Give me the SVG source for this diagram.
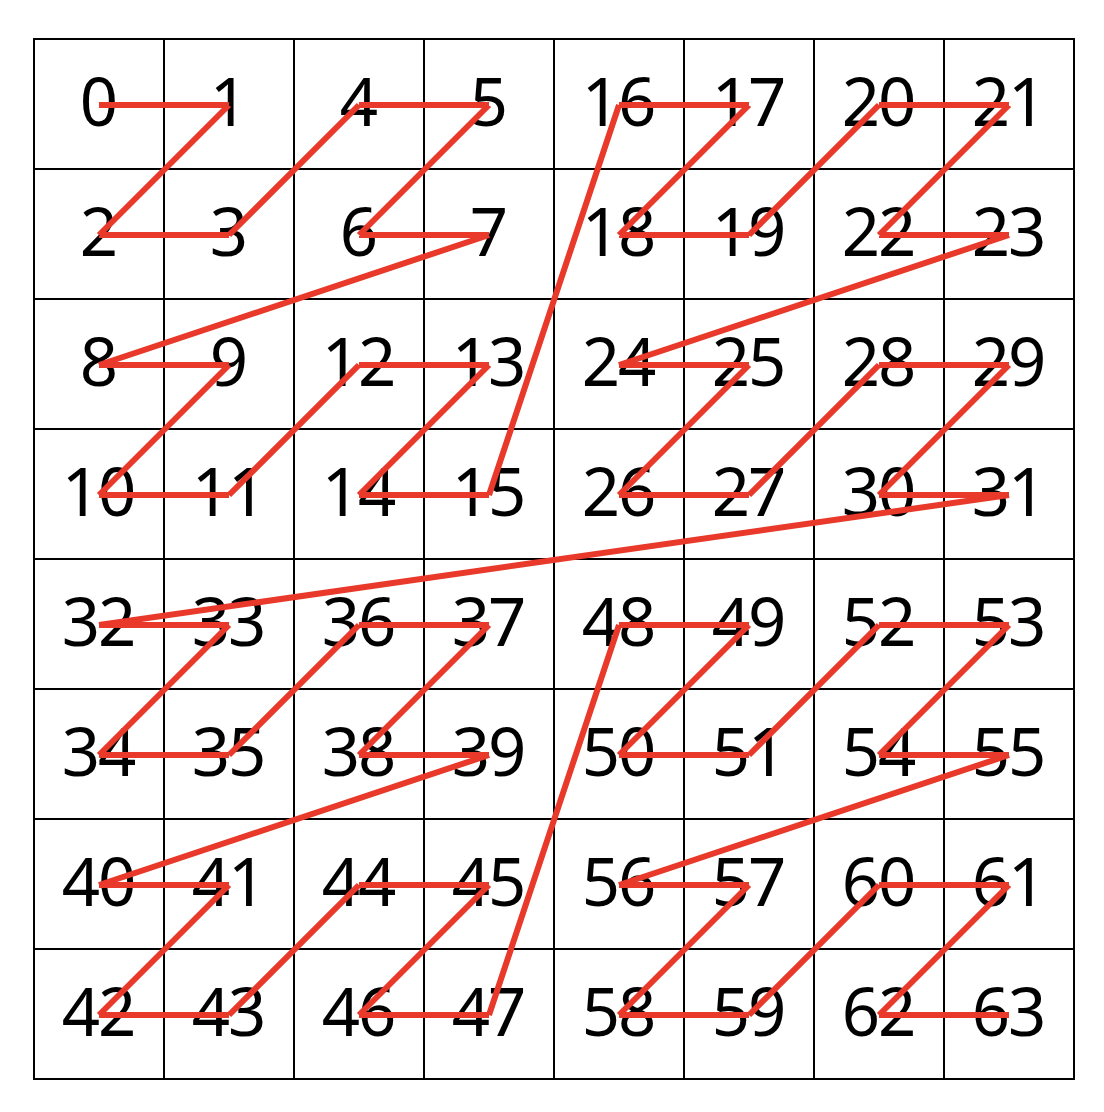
<svg xmlns="http://www.w3.org/2000/svg" width="1104" height="1112" viewBox="0 0 1104 1112">
<style>
.g{stroke:#000;stroke-width:2;fill:none}
.t{font-family:"Noto Sans",sans-serif;font-size:67px;letter-spacing:-2px;fill:#000;text-anchor:middle}
.z{stroke:#e8392a;stroke-width:6;fill:none;stroke-linecap:butt}
</style>
<rect width="1104" height="1112" fill="#fff"/>
<g id="grid" class="g">
<rect x="34" y="39" width="1040" height="1040"/>
<path d="M164 39V1079M294 39V1079M424 39V1079M554 39V1079M684 39V1079M814 39V1079M944 39V1079M34 169H1074M34 299H1074M34 429H1074M34 559H1074M34 689H1074M34 819H1074M34 949H1074"/>
</g>
<g id="labels" class="t" transform="translate(-1,0)">
<text x="99" y="126">0</text><text x="229" y="126">1</text><text x="359" y="126">4</text><text x="489" y="126">5</text><text x="619" y="126">16</text><text x="749" y="126">17</text><text x="879" y="126">20</text><text x="1009" y="126">21</text>
<text x="99" y="256">2</text><text x="229" y="256">3</text><text x="359" y="256">6</text><text x="489" y="256">7</text><text x="619" y="256">18</text><text x="749" y="256">19</text><text x="879" y="256">22</text><text x="1009" y="256">23</text>
<text x="99" y="386">8</text><text x="229" y="386">9</text><text x="359" y="386">12</text><text x="489" y="386">13</text><text x="619" y="386">24</text><text x="749" y="386">25</text><text x="879" y="386">28</text><text x="1009" y="386">29</text>
<text x="99" y="516">10</text><text x="229" y="516">11</text><text x="359" y="516">14</text><text x="489" y="516">15</text><text x="619" y="516">26</text><text x="749" y="516">27</text><text x="879" y="516">30</text><text x="1009" y="516">31</text>
<text x="99" y="646">32</text><text x="229" y="646">33</text><text x="359" y="646">36</text><text x="489" y="646">37</text><text x="619" y="646">48</text><text x="749" y="646">49</text><text x="879" y="646">52</text><text x="1009" y="646">53</text>
<text x="99" y="776">34</text><text x="229" y="776">35</text><text x="359" y="776">38</text><text x="489" y="776">39</text><text x="619" y="776">50</text><text x="749" y="776">51</text><text x="879" y="776">54</text><text x="1009" y="776">55</text>
<text x="99" y="906">40</text><text x="229" y="906">41</text><text x="359" y="906">44</text><text x="489" y="906">45</text><text x="619" y="906">56</text><text x="749" y="906">57</text><text x="879" y="906">60</text><text x="1009" y="906">61</text>
<text x="99" y="1036">42</text><text x="229" y="1036">43</text><text x="359" y="1036">46</text><text x="489" y="1036">47</text><text x="619" y="1036">58</text><text x="749" y="1036">59</text><text x="879" y="1036">62</text><text x="1009" y="1036">63</text>
</g>
<g id="connectors" transform="translate(0,1)">
<path class="z" d="M99 104L229 104M229 104L99 234M99 234L229 234M229 234L359 104M359 104L489 104M489 104L359 234M359 234L489 234M489 234L99 364M99 364L229 364M229 364L99 494M99 494L229 494M229 494L359 364M359 364L489 364M489 364L359 494M359 494L489 494M489 494L619 104M619 104L749 104M749 104L619 234M619 234L749 234M749 234L879 104M879 104L1009 104M1009 104L879 234M879 234L1009 234M1009 234L619 364M619 364L749 364M749 364L619 494M619 494L749 494M749 494L879 364M879 364L1009 364M1009 364L879 494M879 494L1009 494M1009 494L99 624M99 624L229 624M229 624L99 754M99 754L229 754M229 754L359 624M359 624L489 624M489 624L359 754M359 754L489 754M489 754L99 884M99 884L229 884M229 884L99 1014M99 1014L229 1014M229 1014L359 884M359 884L489 884M489 884L359 1014M359 1014L489 1014M489 1014L619 624M619 624L749 624M749 624L619 754M619 754L749 754M749 754L879 624M879 624L1009 624M1009 624L879 754M879 754L1009 754M1009 754L619 884M619 884L749 884M749 884L619 1014M619 1014L749 1014M749 1014L879 884M879 884L1009 884M1009 884L879 1014M879 1014L1009 1014"/>
</g>
</svg>
